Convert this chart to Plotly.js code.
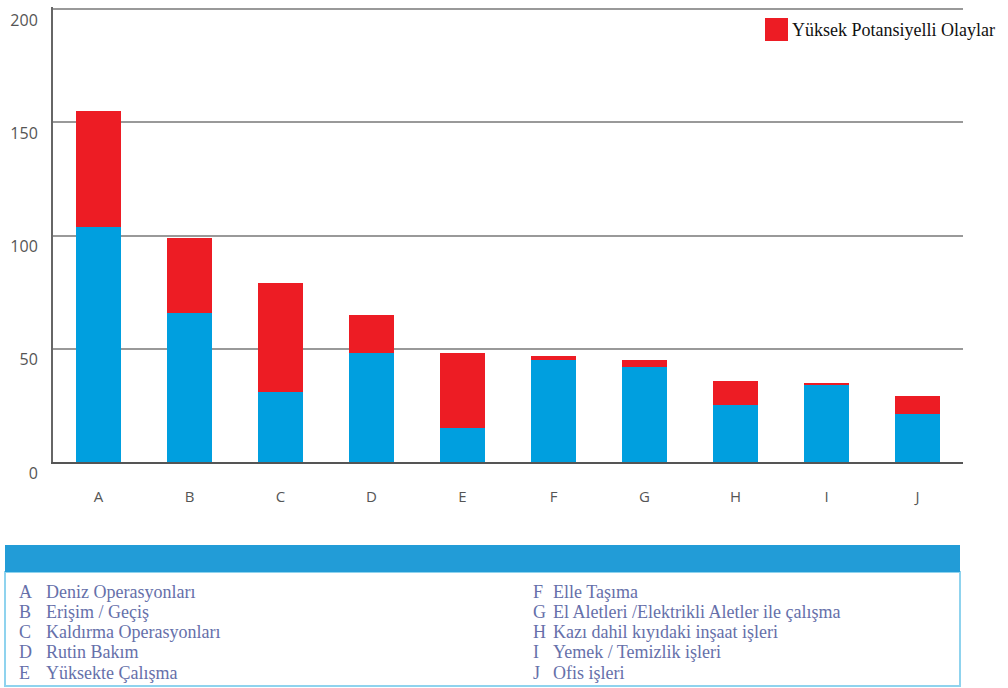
<!DOCTYPE html>
<html>
<head>
<meta charset="utf-8">
<script src="https://cdn.plot.ly/plotly-3.0.1.min.js"></script>
<style>
  html, body { margin: 0; padding: 0; background: #fff; }
  #chart { width: 1008px; height: 688px; }
</style>
</head>
<body>
<div id="chart"></div>
<script>
// Activity categories (x axis codes)
const categories = ['A', 'B', 'C', 'D', 'E', 'F', 'G', 'H', 'I', 'J'];
// Blue lower segment: other events
const otherEvents = [104, 66, 31, 48, 15, 45, 42, 25, 34, 21];
// Red upper segment: high-potential events
const highPotential = [51, 33, 48, 17, 33, 2, 3, 11, 1, 8];
const highPotentialName = 'Yüksek Potansiyelli Olaylar';
// Y axis ticks
const yTicks = [0, 50, 100, 150, 200];
// Key below the chart
const keyLetters = ['A', 'B', 'C', 'D', 'E', 'F', 'G', 'H', 'I', 'J'];
const keyNames = [
  'Deniz Operasyonları',
  'Erişim / Geçiş',
  'Kaldırma Operasyonları',
  'Rutin Bakım',
  'Yüksekte Çalışma',
  'Elle Taşıma',
  'El Aletleri /Elektrikli Aletler ile çalışma',
  'Kazı dahil kıyıdaki inşaat işleri',
  'Yemek / Temizlik işleri',
  'Ofis işleri'
];

// Page geometry (pixels)
const FIG_W = 1008, FIG_H = 688;
const M = { l: 53, r: 45, t: 7, b: 226 };
const PW = FIG_W - M.l - M.r, PH = FIG_H - M.t - M.b;
const px = x => (x - M.l) / PW;
const py = y => (FIG_H - M.b - y) / PH;

const BLUE = '#009fdf';
const RED = '#ed1c24';
const KEY_TEXT = '#6670aa';
const SERIF = 'Liberation Serif, Times New Roman, serif';

const traces = [
  {
    type: 'bar', x: categories, y: otherEvents, name: 'Diğer Olaylar',
    marker: { color: BLUE }, showlegend: false, hoverinfo: 'x+y'
  },
  {
    type: 'bar', x: categories, y: highPotential, name: highPotentialName,
    marker: { color: RED }, showlegend: false, hoverinfo: 'x+y'
  }
];

const shapes = [];
const annotations = [];

// Legend swatch and label
shapes.push({
  type: 'rect', xref: 'paper', yref: 'paper',
  x0: px(765), x1: px(788), y0: py(41), y1: py(18),
  fillcolor: RED, line: { width: 0 }
});
annotations.push({
  xref: 'paper', yref: 'paper', x: px(790), y: py(30),
  xanchor: 'left', yanchor: 'middle', showarrow: false,
  text: highPotentialName, font: { family: SERIF, size: 18, color: '#111' }
});

// Key box: blue header band and framed body
shapes.push({
  type: 'rect', xref: 'paper', yref: 'paper',
  x0: px(5), x1: px(960), y0: py(686), y1: py(572),
  fillcolor: '#ffffff', line: { color: '#8fd3ee', width: 2 }
});
shapes.push({
  type: 'rect', xref: 'paper', yref: 'paper',
  x0: px(5), x1: px(960), y0: py(572), y1: py(545),
  fillcolor: '#229cd7', line: { width: 0 }
});

const rowY = [592, 612, 632, 652, 673];
keyLetters.forEach((letter, i) => {
  const col = i < 5 ? 0 : 1;
  const row = i % 5;
  const letterX = col === 0 ? 17 : 531;
  const nameX = col === 0 ? 44 : 551;
  annotations.push({
    xref: 'paper', yref: 'paper', x: px(letterX), y: py(rowY[row]),
    xanchor: 'left', yanchor: 'middle', showarrow: false,
    text: letter, font: { family: SERIF, size: 18, color: KEY_TEXT }
  });
  annotations.push({
    xref: 'paper', yref: 'paper', x: px(nameX), y: py(rowY[row]),
    xanchor: 'left', yanchor: 'middle', showarrow: false,
    text: keyNames[i], font: { family: SERIF, size: 18, color: KEY_TEXT }
  });
});

const layout = {
  width: FIG_W, height: FIG_H,
  margin: M,
  barmode: 'stack',
  bargap: 0.5,
  paper_bgcolor: '#fff', plot_bgcolor: '#fff',
  showlegend: false,
  font: { family: 'Open Sans, sans-serif', size: 15, color: '#555' },
  xaxis: {
    type: 'category',
    showline: true, linecolor: '#555', linewidth: 2,
    showgrid: false, ticks: '',
    ticklabelstandoff: 20,
    tickfont: { family: 'Open Sans, sans-serif', size: 15, color: '#555' }
  },
  yaxis: {
    range: [0, 201], tickvals: yTicks,
    showline: true, linecolor: '#666', linewidth: 2,
    showgrid: true, gridcolor: '#999', gridwidth: 2,
    zeroline: false, ticks: '',
    ticklabelstandoff: 10,
    ticklabelshift: 11,
    tickfont: { family: 'Open Sans, sans-serif', size: 16, color: '#555' }
  },
  shapes: shapes,
  annotations: annotations
};

Plotly.newPlot('chart', traces, layout, { displayModeBar: false, staticPlot: true });
</script>
</body>
</html>
